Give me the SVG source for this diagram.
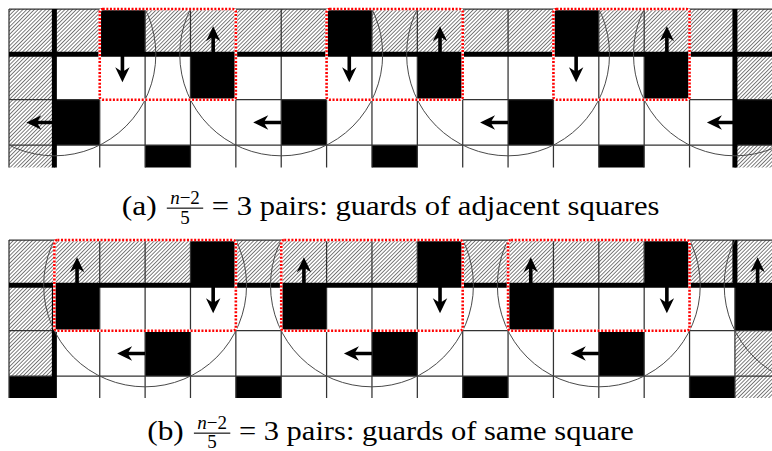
<svg xmlns="http://www.w3.org/2000/svg" xmlns:xlink="http://www.w3.org/1999/xlink" width="772" height="451" viewBox="0 0 772 451">
<style>
.h{fill:url(#hatch)}
.b{fill:#000}
.grid{fill:none;stroke:#333;stroke-width:1.25}
.thick{fill:none;stroke:#000;stroke-width:5}
.circ{fill:none;stroke:#4a4a4a;stroke-width:1}
.boxw{fill:none;stroke:#fff;stroke-width:2.6}
.boxr{fill:none;stroke:#f00;stroke-width:2.6;stroke-dasharray:2 1.6}
.cap{font-family:"Liberation Serif","DejaVu Serif",serif;font-size:27.4px;fill:#000}
.sm{font-family:"Liberation Serif","DejaVu Serif",serif;font-size:19px;fill:#000}
</style>
<defs>
<pattern id="hatch" width="2.7" height="2.7" patternUnits="userSpaceOnUse" patternTransform="rotate(45)">
<rect width="2.7" height="2.7" fill="#fff"/>
<line x1="1.35" y1="0" x2="1.35" y2="2.7" stroke="#444" stroke-width="0.7"/>
</pattern>
<path id="arr" d="M0,-1.8 H16.5 L13,-7.2 L28,0 L13,7.2 L16.5,1.8 H0 Z" fill="#000"/>
<clipPath id="clipA"><rect x="9" y="9" width="763" height="158.5"/></clipPath>
<clipPath id="clipB"><rect x="9" y="240" width="763" height="158"/></clipPath>
</defs>
<rect width="772" height="451" fill="#fff"/>

<g id="panel-a">
<g id="cells-a">
<rect x="9" y="9" width="90.74" height="45.37" class="h"/>
<rect x="145.11" y="9" width="181.48" height="45.37" class="h"/>
<rect x="371.96" y="9" width="181.48" height="45.37" class="h"/>
<rect x="598.81" y="9" width="173.19" height="45.37" class="h"/>
<rect x="9" y="54.37" width="45.37" height="113.13" class="h"/>
<rect x="734.92" y="54.37" width="37.08" height="45.37" class="h"/>
<rect x="734.92" y="145.11" width="37.08" height="22.39" class="h"/>
<rect x="99.74" y="9" width="45.37" height="45.37" class="b"/>
<rect x="326.59" y="9" width="45.37" height="45.37" class="b"/>
<rect x="553.44" y="9" width="45.37" height="45.37" class="b"/>
<rect x="190.48" y="54.37" width="45.37" height="45.37" class="b"/>
<rect x="417.33" y="54.37" width="45.37" height="45.37" class="b"/>
<rect x="644.18" y="54.37" width="45.37" height="45.37" class="b"/>
<rect x="54.37" y="99.74" width="45.37" height="45.37" class="b"/>
<rect x="281.22" y="99.74" width="45.37" height="45.37" class="b"/>
<rect x="508.07" y="99.74" width="45.37" height="45.37" class="b"/>
<rect x="734.92" y="99.74" width="37.08" height="45.37" class="b"/>
<rect x="145.11" y="145.11" width="45.37" height="22.39" class="b"/>
<rect x="371.96" y="145.11" width="45.37" height="22.39" class="b"/>
<rect x="598.81" y="145.11" width="45.37" height="22.39" class="b"/>
</g>
<path class="grid" d="M9,9H772M9,99.74H772M9,145.11H772M9,9V167.5M54.37,9V167.5M99.74,9V167.5M145.11,9V167.5M190.48,9V167.5M235.85,9V167.5M281.22,9V167.5M326.59,9V167.5M371.96,9V167.5M417.33,9V167.5M462.7,9V167.5M508.07,9V167.5M553.44,9V167.5M598.81,9V167.5M644.18,9V167.5M689.55,9V167.5M734.92,9V167.5"/>
<path class="thick" d="M9,54.37H772M54.37,9V167.5M734.92,9V167.5"/>
<g clip-path="url(#clipA)">
<circle cx="54.37" cy="54.37" r="101.45" class="circ"/>
<circle cx="281.22" cy="54.37" r="101.45" class="circ"/>
<circle cx="508.07" cy="54.37" r="101.45" class="circ"/>
<circle cx="734.92" cy="54.37" r="101.45" class="circ"/>
</g>
<g id="boxes-a">
<rect x="99.74" y="9" width="136.11" height="90.74" rx="3" class="boxw"/>
<rect x="99.74" y="9" width="136.11" height="90.74" rx="3" class="boxr"/>
<rect x="326.59" y="9" width="136.11" height="90.74" rx="3" class="boxw"/>
<rect x="326.59" y="9" width="136.11" height="90.74" rx="3" class="boxr"/>
<rect x="553.44" y="9" width="136.11" height="90.74" rx="3" class="boxw"/>
<rect x="553.44" y="9" width="136.11" height="90.74" rx="3" class="boxr"/>
</g>
</g>

<g id="panel-b">
<g id="cells-b">
<rect x="9" y="240" width="181.48" height="45.37" class="h"/>
<rect x="235.85" y="240" width="181.48" height="45.37" class="h"/>
<rect x="462.7" y="240" width="181.48" height="45.37" class="h"/>
<rect x="689.55" y="240" width="82.45" height="45.37" class="h"/>
<rect x="9" y="285.37" width="45.37" height="90.74" class="h"/>
<rect x="734.92" y="330.74" width="37.08" height="67.26" class="h"/>
<rect x="190.48" y="240" width="45.37" height="45.37" class="b"/>
<rect x="417.33" y="240" width="45.37" height="45.37" class="b"/>
<rect x="644.18" y="240" width="45.37" height="45.37" class="b"/>
<rect x="54.37" y="285.37" width="45.37" height="45.37" class="b"/>
<rect x="281.22" y="285.37" width="45.37" height="45.37" class="b"/>
<rect x="508.07" y="285.37" width="45.37" height="45.37" class="b"/>
<rect x="734.92" y="285.37" width="37.08" height="45.37" class="b"/>
<rect x="145.11" y="330.74" width="45.37" height="45.37" class="b"/>
<rect x="371.96" y="330.74" width="45.37" height="45.37" class="b"/>
<rect x="598.81" y="330.74" width="45.37" height="45.37" class="b"/>
<rect x="9" y="376.11" width="45.37" height="21.89" class="b"/>
<rect x="235.85" y="376.11" width="45.37" height="21.89" class="b"/>
<rect x="462.7" y="376.11" width="45.37" height="21.89" class="b"/>
<rect x="689.55" y="376.11" width="45.37" height="21.89" class="b"/>
</g>
<path class="grid" d="M9,240H772M9,330.74H772M9,376.11H772M9,240V398M54.37,240V398M99.74,240V398M145.11,240V398M190.48,240V398M235.85,240V398M281.22,240V398M326.59,240V398M371.96,240V398M417.33,240V398M462.7,240V398M508.07,240V398M553.44,240V398M598.81,240V398M644.18,240V398M689.55,240V398M734.92,240V398"/>
<path class="thick" d="M9,285.37H772M54.37,285.37V398M734.92,240V285.37"/>
<g clip-path="url(#clipB)">
<circle cx="145.11" cy="285.37" r="101.45" class="circ"/>
<circle cx="371.96" cy="285.37" r="101.45" class="circ"/>
<circle cx="598.81" cy="285.37" r="101.45" class="circ"/>
<circle cx="825.66" cy="285.37" r="101.45" class="circ"/>
</g>
<g id="boxes-b">
<rect x="54.37" y="240" width="181.48" height="90.74" rx="3" class="boxw"/>
<rect x="54.37" y="240" width="181.48" height="90.74" rx="3" class="boxr"/>
<rect x="281.22" y="240" width="181.48" height="90.74" rx="3" class="boxw"/>
<rect x="281.22" y="240" width="181.48" height="90.74" rx="3" class="boxr"/>
<rect x="508.07" y="240" width="181.48" height="90.74" rx="3" class="boxw"/>
<rect x="508.07" y="240" width="181.48" height="90.74" rx="3" class="boxr"/>
</g>
</g>

<g id="arrows">
<use href="#arr" transform="translate(122.43,54.37) rotate(90)"/>
<use href="#arr" transform="translate(349.28,54.37) rotate(90)"/>
<use href="#arr" transform="translate(576.13,54.37) rotate(90)"/>
<use href="#arr" transform="translate(213.17,54.37) rotate(-90)"/>
<use href="#arr" transform="translate(440.02,54.37) rotate(-90)"/>
<use href="#arr" transform="translate(666.87,54.37) rotate(-90)"/>
<use href="#arr" transform="translate(54.37,122.43) rotate(180)"/>
<use href="#arr" transform="translate(281.22,122.43) rotate(180)"/>
<use href="#arr" transform="translate(508.07,122.43) rotate(180)"/>
<use href="#arr" transform="translate(734.92,122.43) rotate(180)"/>
<use href="#arr" transform="translate(77.06,285.37) rotate(-90)"/>
<use href="#arr" transform="translate(303.91,285.37) rotate(-90)"/>
<use href="#arr" transform="translate(530.76,285.37) rotate(-90)"/>
<use href="#arr" transform="translate(757.61,285.37) rotate(-90)"/>
<use href="#arr" transform="translate(213.17,285.37) rotate(90)"/>
<use href="#arr" transform="translate(440.02,285.37) rotate(90)"/>
<use href="#arr" transform="translate(666.87,285.37) rotate(90)"/>
<use href="#arr" transform="translate(145.11,353.43) rotate(180)"/>
<use href="#arr" transform="translate(371.96,353.43) rotate(180)"/>
<use href="#arr" transform="translate(598.81,353.43) rotate(180)"/>
</g>

<g id="caption-a">
<text x="121.7" y="215" class="cap" textLength="35" lengthAdjust="spacingAndGlyphs">(a)</text>
<text x="185" y="204.3" class="sm" text-anchor="middle"><tspan font-style="italic">n</tspan>−2</text>
<rect x="166.8" y="207.6" width="36.4" height="1.1" fill="#000"/>
<text x="185" y="223.5" class="sm" text-anchor="middle">5</text>
<text x="211.8" y="215" class="cap" textLength="447.6" lengthAdjust="spacingAndGlyphs">= 3 pairs: guards of adjacent squares</text>
</g>
<g id="caption-b">
<text x="147.2" y="440" class="cap" textLength="36.6" lengthAdjust="spacingAndGlyphs">(b)</text>
<text x="212.1" y="429.3" class="sm" text-anchor="middle"><tspan font-style="italic">n</tspan>−2</text>
<rect x="193.9" y="432.6" width="36.4" height="1.1" fill="#000"/>
<text x="212.1" y="448.3" class="sm" text-anchor="middle">5</text>
<text x="238.9" y="440" class="cap" textLength="395" lengthAdjust="spacingAndGlyphs">= 3 pairs: guards of same square</text>
</g>
</svg>
